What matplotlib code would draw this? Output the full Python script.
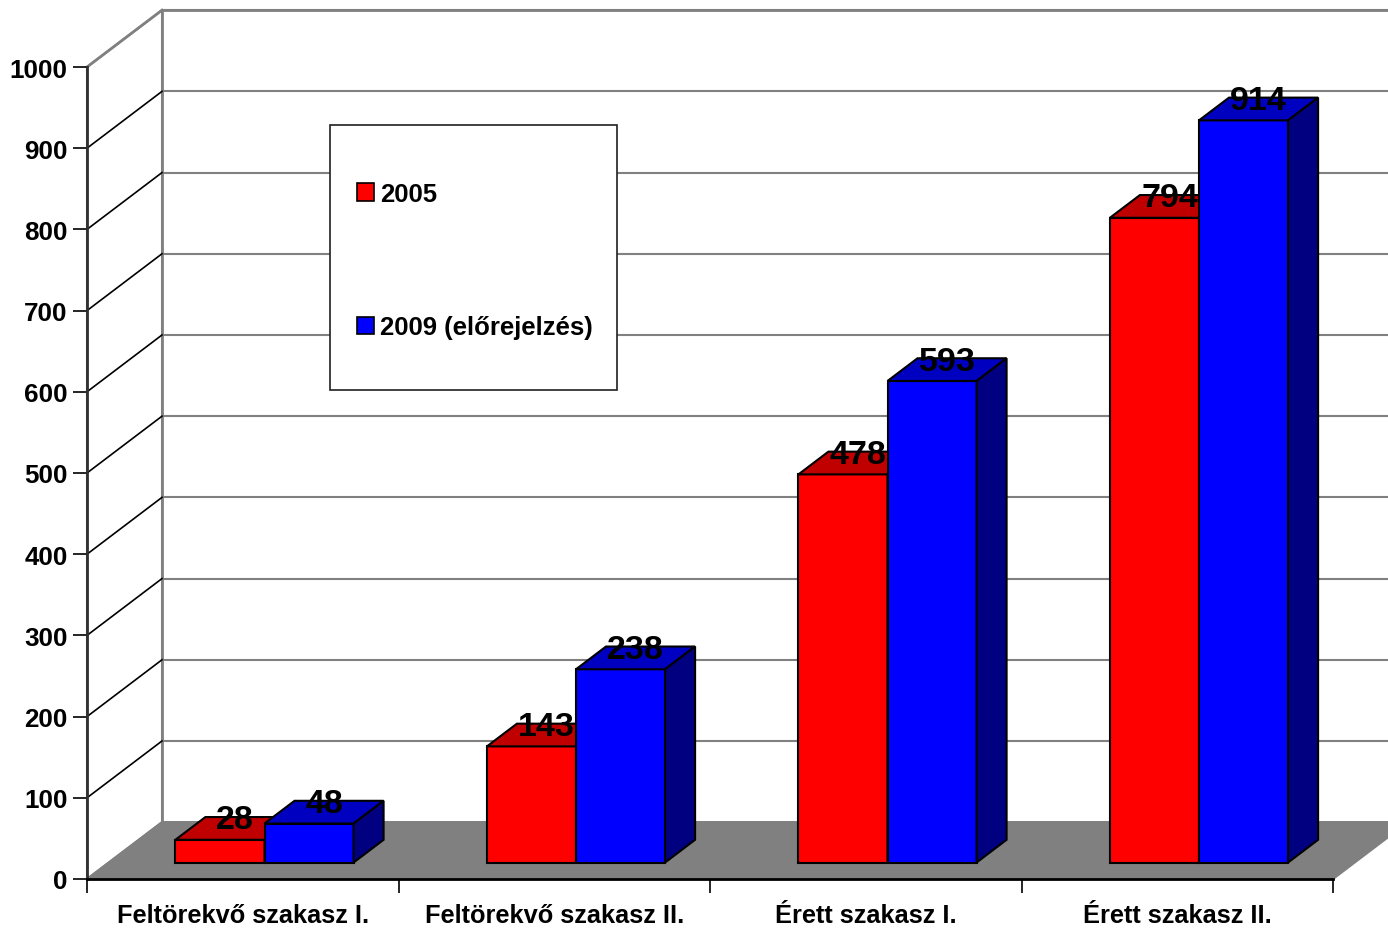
import numpy as np
import matplotlib
matplotlib.use('Agg')
import matplotlib.pyplot as plt
from matplotlib.patches import Polygon, Patch, Rectangle

plt.rcParams['font.family'] = ['Liberation Sans', 'DejaVu Sans']
plt.rcParams['font.weight'] = 'bold'

categories = ['Feltörekvő szakasz I.', 'Feltörekvő szakasz II.',
              'Érett szakasz I.', 'Érett szakasz II.']
values_2005 = [28, 143, 478, 794]
values_2009 = [48, 238, 593, 914]
series_labels = ['2005', '2009 (előrejelzés)']
yticks = np.arange(0, 1001, 100)

# oblique "3d" offsets (category units, value units) for full depth
DX = 0.2408
DY = 70
D0, D1 = 0.29, 0.69  # bar front/back depth

front_cols = ['#ff0000', '#0000ff']
top_cols = ['#c00000', '#0000c0']
side_cols = ['#800000', '#000080']

W, H = 1388, 929
fig = plt.figure(figsize=(W / 100, H / 100), dpi=100)
ax = fig.add_axes([87 / W, 49 / H, 1246 / W, 812 / H])
ax.set_xlim(0, 4)
ax.set_ylim(0, 1000)
ax.patch.set_visible(False)


def pt(x, y, d):
    return (x + d * DX, y + d * DY)


def poly(pts, fc, ec='black', lw=1.5, z=1):
    ax.add_patch(Polygon(pts, closed=True, facecolor=fc, edgecolor=ec,
                         linewidth=lw, zorder=z, clip_on=False))


n = len(categories)
# floor
poly([pt(0, 0, 0), pt(n, 0, 0), pt(n, 0, 1), pt(0, 0, 1)], '#808080', ec='#808080', z=0.5)
# walls
poly([pt(0, 0, 0), pt(0, 1000, 0), pt(0, 1000, 1), pt(0, 0, 1)], 'white', ec='#808080', z=0.4)
poly([pt(0, 0, 1), pt(n, 0, 1), pt(n, 1000, 1), pt(0, 1000, 1)], 'white', ec='#808080', lw=2, z=0.4)

# gridlines
for v in yticks[1:]:
    ax.plot([DX, n + DX], [v + DY, v + DY], color='#808080', lw=1.5, zorder=0.6, clip_on=False)
    c = '#808080' if v == 1000 else 'black'
    ax.plot([0, DX], [v, v + DY], color=c, lw=1.2 if v < 1000 else 2, zorder=0.6, clip_on=False)

# bars
x0 = 0.214
bw = 0.286
for i in range(n):
    for s, vals in enumerate([values_2005, values_2009]):
        xl = i + x0 + s * bw
        xr = xl + bw
        v = vals[i]
        poly([pt(xl, 0, D0), pt(xr, 0, D0), pt(xr, v, D0), pt(xl, v, D0)], front_cols[s], z=2)
        poly([pt(xl, v, D0), pt(xr, v, D0), pt(xr, v, D1), pt(xl, v, D1)], top_cols[s], z=2)
        poly([pt(xr, 0, D0), pt(xr, 0, D1), pt(xr, v, D1), pt(xr, v, D0)], side_cols[s], z=2)

# value labels
dm = (D0 + D1) / 2
for i in range(n):
    for s, vals in enumerate([values_2005, values_2009]):
        xc = i + x0 + s * bw + bw / 2
        x, y = pt(xc, vals[i], dm)
        ax.text(x, y, str(vals[i]), ha='center', va='baseline',
                fontsize=24.5, fontweight='bold', zorder=5)

# axes
ax.spines['top'].set_visible(False)
ax.spines['right'].set_visible(False)
ax.spines['left'].set_linewidth(2)
ax.spines['left'].set_color('#303030')
ax.spines['bottom'].set_linewidth(2)
ax.spines['bottom'].set_color('black')
ax.set_yticks(yticks)
ax.set_yticklabels([str(v) for v in yticks])
ax.tick_params(axis='y', direction='out', length=10, width=1.2, pad=4,
               labelsize=18.7)
ax.set_xticks(np.arange(n + 1))
ax.set_xticklabels([''] * (n + 1))
ax.tick_params(axis='x', which='major', direction='out', length=10, width=1.2)
ax.set_xticks(np.arange(n) + 0.5, minor=True)
ax.set_xticklabels(categories, minor=True)
ax.tick_params(axis='x', which='minor', length=0, pad=17.5, labelsize=18.3)
for t in ax.get_xticklabels(minor=True) + ax.get_yticklabels():
    t.set_fontweight('bold')

# legend
ax.add_patch(Rectangle((330 / W, 1 - 391 / H), 287 / W, 265 / H, transform=fig.transFigure,
                       facecolor='white', edgecolor='#202020', lw=1.2, zorder=3, clip_on=False))
handles = [Patch(facecolor=front_cols[k], edgecolor='black', lw=1.2) for k in range(2)]
leg = ax.legend(handles, series_labels, frameon=False, loc='upper left',
                bbox_to_anchor=(357 / W, 1 - 183 / H), bbox_transform=fig.transFigure,
                borderpad=0, borderaxespad=0, handlelength=0.66, handleheight=0.66,
                handletextpad=0.23, labelspacing=4.25,
                prop={'size': 18.5, 'weight': 'bold'})
leg.set_zorder(4)

fig.savefig('out.png', dpi=100)
